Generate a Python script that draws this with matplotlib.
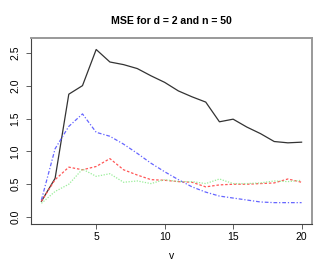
import matplotlib
matplotlib.use("Agg")
import matplotlib.pyplot as plt

v = list(range(1, 21))

# MSE curves
mse_black = [0.24, 0.59, 1.87, 2.00, 2.55, 2.36, 2.32, 2.26, 2.15, 2.05,
             1.92, 1.83, 1.75, 1.45, 1.49, 1.37, 1.27, 1.15, 1.13, 1.14]
mse_blue = [0.26, 1.04, 1.38, 1.57, 1.29, 1.23, 1.11, 0.97, 0.82, 0.69,
            0.57, 0.46, 0.38, 0.32, 0.29, 0.26, 0.23, 0.22, 0.22, 0.22]
mse_red = [0.24, 0.57, 0.76, 0.72, 0.77, 0.89, 0.72, 0.64, 0.57, 0.56,
           0.54, 0.53, 0.46, 0.49, 0.50, 0.50, 0.51, 0.52, 0.58, 0.53]
mse_green = [0.21, 0.39, 0.50, 0.73, 0.62, 0.66, 0.53, 0.55, 0.51, 0.57,
             0.54, 0.54, 0.51, 0.58, 0.51, 0.51, 0.52, 0.55, 0.54, 0.56]

xticks = [5, 10, 15, 20]
yticks = [0.0, 0.5, 1.0, 1.5, 2.0, 2.5]

plt.rcParams["font.family"] = ["Liberation Sans", "DejaVu Sans"]

fig = plt.figure(figsize=(3.27, 2.73), dpi=100)
ax = fig.add_axes([31 / 327, 49 / 273, 281 / 327, 186 / 273])

ax.plot(v, mse_black, color="#333333", lw=0.9, ls="-")
ax.plot(v, mse_blue, color="#6666ff", lw=0.9, ls=(0, (3, 1.5, 1, 1.5)))
ax.plot(v, mse_red, color="#ff5555", lw=0.9, ls=(0, (2, 1.5)))
ax.plot(v, mse_green, color="#99ee99", lw=0.9, ls=(0, (1, 1.2)))

ax.set_xlim(0.24, 20.76)
ax.set_ylim(-0.105, 2.725)
ax.set_xticks(xticks)
ax.set_xticklabels([str(t) for t in xticks])
ax.set_yticks(yticks)
ax.set_yticklabels([f"{t:.1f}" for t in yticks], rotation=90, va="center")
ax.tick_params(labelsize=7.5, length=3.6, width=0.6, color="#444444", pad=2.5)
ax.tick_params(axis="y", pad=4)
for side in ["bottom", "left"]:
    ax.spines[side].set_color("#444444")
    ax.spines[side].set_linewidth(0.8)
for side in ["top", "right"]:
    ax.spines[side].set_color("#999999")
    ax.spines[side].set_linewidth(1.4)

ax.set_xlabel("v", fontsize=7.5, labelpad=6)
fig.text(171 / 327, 1 - 21 / 273, "MSE for d = 2 and n = 50", ha="center",
         va="center", fontsize=7.6, fontweight="bold")

fig.savefig("out.png", dpi=100)
